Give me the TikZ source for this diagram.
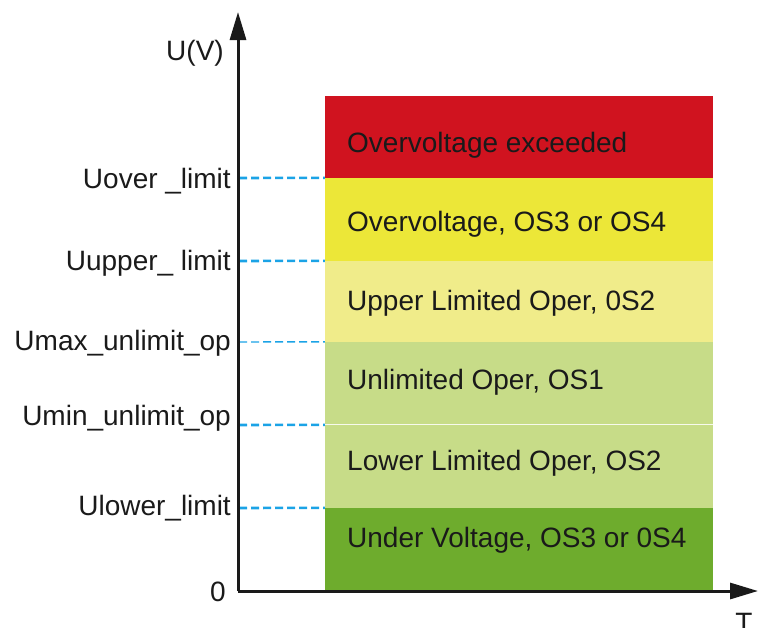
\documentclass[tikz,border=0pt]{standalone}
\usepackage{fontspec}
\setmainfont{Liberation Sans}
\usetikzlibrary{arrows.meta}
\definecolor{exceedfill}{HTML}{D0131F}
\definecolor{overfill}{HTML}{ECE738}
\definecolor{upperfill}{HTML}{F0EC8A}
\definecolor{unlimfill}{HTML}{C7DC88}
\definecolor{lowerfill}{HTML}{C7DC88}
\definecolor{underfill}{HTML}{6EAC2D}
\definecolor{limitline}{HTML}{1BA3E6}
\definecolor{darkline}{HTML}{1A1A1A}
\tikzset{
  band/.style={
    rectangle,
    inner sep=0pt,
    minimum width=388pt
  },
  bandtext/.style={
    anchor=west,
    inner sep=0pt,
    text height=20pt,
    text depth=0pt,
    text=darkline,
    font=\fontsize{28}{32}\selectfont
  },
  levelname/.style={
    bandtext,
    anchor=east
  },
  axis/.style={
    -{Triangle[length=28pt, width=16pt]},
    line width=3pt,
    draw=darkline
  },
  limit/.style={
    dash pattern=on 8pt off 4pt,
    line width=2.6pt,
    draw=limitline
  }
}

\begin{document}
\begin{tikzpicture}[x=1pt, y=-1pt]
\useasboundingbox (0,0) rectangle (758,627);

% Operating bands, top to bottom.
\node[band, fill=exceedfill, minimum height=83pt] (exceed) at (519,137) {};
\node[band, fill=overfill, minimum height=83pt] (over) at (519,219.5) {};
\node[band, fill=upperfill, minimum height=81pt] (upper) at (519,301.5) {};
\node[band, fill=unlimfill, minimum height=83pt] (unlim) at (519,383.5) {};
\node[band, fill=lowerfill, minimum height=83pt] (lower) at (519,466.5) {};
\node[band, fill=underfill, minimum height=83pt] (under) at (519,549.5) {};
\draw[white!85!unlimfill, line width=1pt] (lower.north west) -- (lower.north east);

\node[bandtext] (exceedtext) at (347,142) {Overvoltage exceeded};
\node[bandtext] (overtext) at (347,221) {Overvoltage, OS3 or OS4};
\node[bandtext] (uppertext) at (347,300) {Upper Limited Oper, 0S2};
\node[bandtext] (unlimtext) at (347,379) {Unlimited Oper, OS1};
\node[bandtext] (lowertext) at (347,460) {Lower Limited Oper, OS2};
\node[bandtext] (undertext) at (347,537) {Under Voltage, OS3 or 0S4};

% Levels on the voltage axis.
\coordinate (uover) at (239,178);
\coordinate (uupper) at (239,261);
\coordinate (umax) at (239,342);
\coordinate (umin) at (239,425);
\coordinate (ulower) at (239,508);

\node[levelname] (overname) at (231,178) {Uover \_limit};
\node[levelname] (uppername) at (231,260) {Uupper\_ limit};
\node[levelname] (maxname) at (231,340) {Umax\_unlimit\_op};
\node[levelname] (minname) at (231,415) {Umin\_unlimit\_op};
\node[levelname] (lowername) at (231,505) {Ulower\_limit};
\node[levelname] (zero) at (226,591) {0};

\draw[limit] (uover) -- (over.north west);
\draw[limit] (uupper) -- (upper.north west);
\draw[limit, line width=1.4pt] (umax) -- (unlim.north west);
\draw[limit] (umin) -- (lower.north west);
\draw[limit] (ulower) -- (under.north west);

% Axes.
\coordinate (origin) at (238,591);
\coordinate (ytop) at (238,12);
\coordinate (xend) at (758,591);
\draw[axis] (origin) -- (ytop);
\draw[axis] (origin) -- (xend);

\node[bandtext, anchor=center] (ylabel) at (195,50) {U(V)};
\node[bandtext, anchor=north] (xlabel) at (744,612) {T};

\end{tikzpicture}
\end{document}
